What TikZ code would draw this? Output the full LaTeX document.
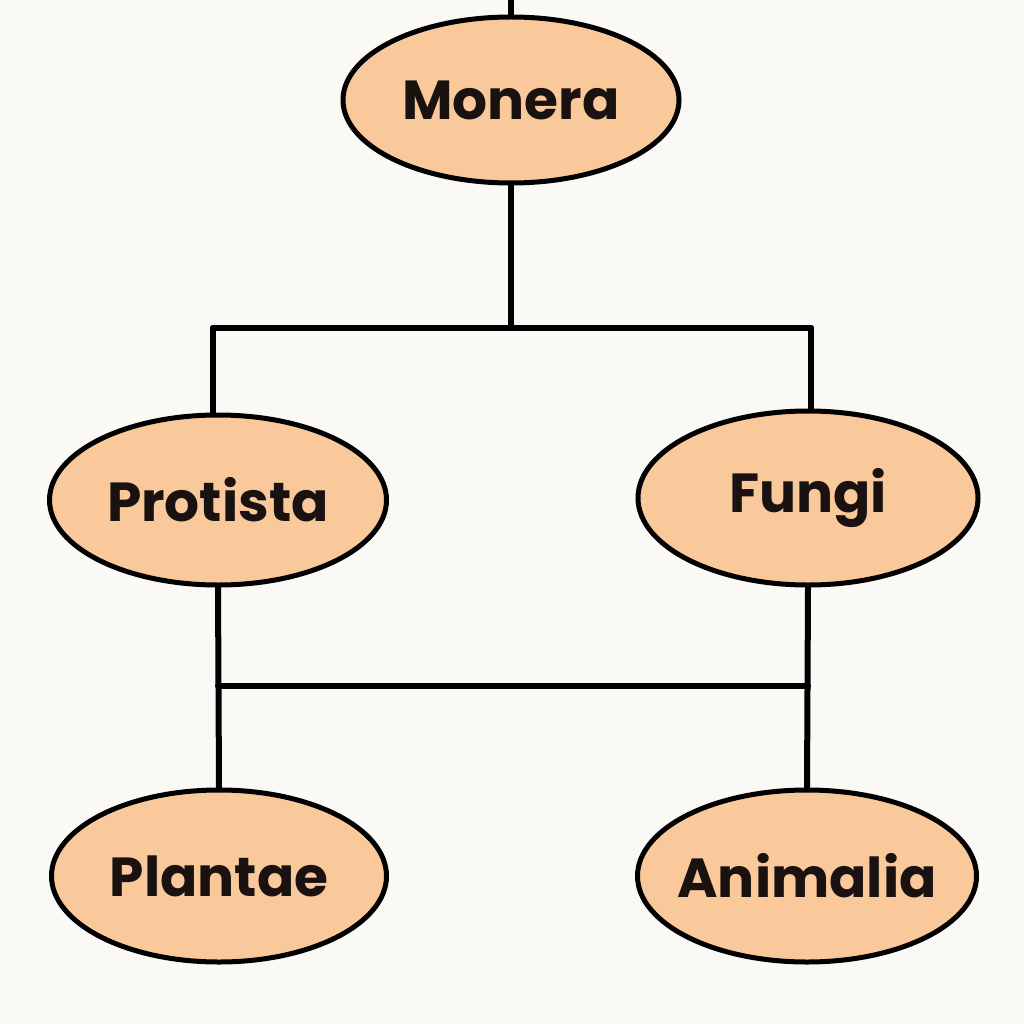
\documentclass[tikz,border=0pt]{standalone}
\usepackage{fontspec}
\setmainfont{Poppins}
\usetikzlibrary{shapes.geometric}
\definecolor{bg}{HTML}{FAF9F5}
\definecolor{peach}{HTML}{FAC99B}
\definecolor{ink}{HTML}{1A1210}
\tikzset{
  kingdom/.style={ellipse, draw=black, line width=5pt, fill=peach, inner sep=0pt,
    text=ink, font=\fontsize{55}{55}\selectfont\bfseries},
  conn/.style={line width=6pt, line cap=round, line join=round}
}
\newcommand{\kname}[1]{\makebox[0pt]{#1}}
\begin{document}
\begin{tikzpicture}[x=1pt,y=-1pt]
\fill[bg] (0,0) rectangle (1024,1024);
\useasboundingbox (0,0) rectangle (1024,1024);
\node[kingdom, minimum width=336pt, minimum height=166pt] (monera) at (511,100) {\kname{Monera}};
\node[kingdom, minimum width=337pt, minimum height=170pt] (protista) at (218,500) {\kname{Protista}};
\node[kingdom, minimum width=340pt, minimum height=174pt] (fungi) at (808,498) {\kname{Fungi}};
\node[kingdom, minimum width=335pt, minimum height=172pt] (plantae) at (219,876) {\kname{Plantae}};
\node[kingdom, minimum width=339pt, minimum height=172pt] (animalia) at (807,876) {\kname{Animalia}};
\coordinate (top) at (511,0);
\coordinate (j1) at (511,328);
\coordinate (j1l) at (213,328);
\coordinate (j1r) at (811,328);
\coordinate (j2l) at (218,686);
\coordinate (j2r) at (808,686);
\draw[conn] (top) -- (monera.north);
\draw[conn] (monera.south) -- (j1);
\draw[conn] (j1l) -- (j1r);
\draw[conn] (j1l) -- (j1l |- protista.north);
\draw[conn] (j1r) -- (j1r |- fungi.north);
\draw[conn] (protista.south) -- (plantae.north);
\draw[conn] (fungi.south) -- (animalia.north);
\draw[conn] (j2l) -- (j2r);
\end{tikzpicture}
\end{document}
